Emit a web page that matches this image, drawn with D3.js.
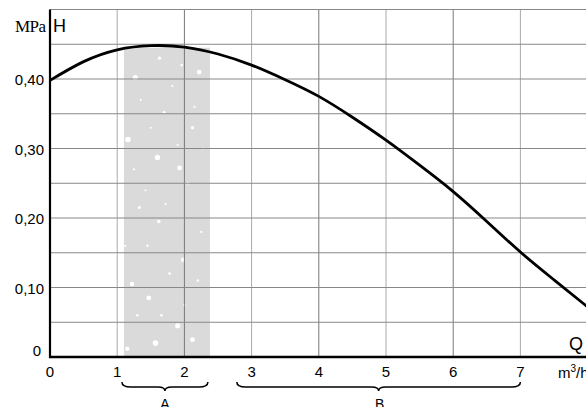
<!DOCTYPE html>
<html><head><meta charset="utf-8">
<script src="https://cdn.jsdelivr.net/npm/d3@7"></script>
<style>html,body{margin:0;padding:0;background:#fff;overflow:hidden}</style>
</head><body>
<svg id="c" width="586" height="407"></svg>
<script>
// Pump curve H(Q)
const flowQ = [0, 0.5, 1, 1.5, 2, 2.5, 3, 3.5, 4, 4.5, 5, 5.5, 6, 6.5, 7, 7.5, 8];
const headH = [0.398, 0.425, 0.442, 0.448, 0.446, 0.436, 0.420, 0.399, 0.375, 0.345, 0.312, 0.276, 0.238, 0.195, 0.151, 0.111, 0.072];
const xTicks = [0, 1, 2, 3, 4, 5, 6, 7];
const xTickLabels = ["0", "1", "2", "3", "4", "5", "6", "7"];
const yTicks = [0, 0.1, 0.2, 0.3, 0.4];
const yTickLabels = ["0", "0,10", "0,20", "0,30", "0,40"];
const xGrid = [1, 2, 3, 4, 5, 6, 7, 8];
const yGrid = [0.05, 0.1, 0.15, 0.2, 0.25, 0.3, 0.35, 0.4, 0.45, 0.5];
const zoneA = [1.1, 2.38];
const braceA = [1.07, 2.35];
const braceB = [2.78, 7.0];
const speckles = [
  [1.27,0.402,2.6],[1.63,0.43,1.6],[2.22,0.41,2.4],[1.96,0.42,1.4],[1.16,0.313,2.8],[1.6,0.287,2.7],
  [1.93,0.272,2.4],[1.7,0.352,1.5],[2.12,0.33,1.6],[1.33,0.215,1.5],[1.62,0.195,1.8],[1.98,0.14,2.2],
  [1.47,0.085,2.4],[1.22,0.105,2.2],[1.9,0.045,2.6],[1.15,0.012,2.2],[1.57,0.02,2.8],[2.12,0.025,2.4],
  [1.35,0.37,1.1],[1.82,0.39,1.1],[2.05,0.25,1.2],[1.25,0.27,1.1],[1.45,0.16,1.2],[1.78,0.12,1.3],
  [2.25,0.18,1.1],[1.3,0.06,1.2],[2.0,0.075,1.3],[1.72,0.22,1.1],[2.28,0.3,1.1],[1.5,0.33,1.0],
  [1.9,0.305,1.1],[1.12,0.16,1.1],[2.2,0.11,1.2],[1.66,0.06,1.3],[1.42,0.24,1.0],[2.15,0.36,1.1]
];

const svg = d3.select("#c");
const x = d3.scaleLinear().domain([0, 8]).range([50, 587.6]);
const y = d3.scaleLinear().domain([0, 0.5]).range([357, 9.5]);

// shaded zone A
svg.append("rect")
  .attr("x", x(zoneA[0])).attr("y", y(0.445))
  .attr("width", x(zoneA[1]) - x(zoneA[0])).attr("height", y(0) - y(0.445))
  .attr("fill", "#dadada");
svg.append("g").selectAll("circle").data(speckles).join("circle")
  .attr("cx", d => x(d[0])).attr("cy", d => y(d[1])).attr("r", d => d[2])
  .attr("fill", "#fff");

// grid
svg.append("g").selectAll("line").data(xGrid).join("line")
  .attr("x1", d => x(d)).attr("x2", d => x(d)).attr("y1", y(0.5)).attr("y2", y(0))
  .attr("stroke", (d, i) => i % 2 ? "#777" : "#aaa").attr("stroke-width", 1);
svg.append("g").selectAll("line").data(yGrid).join("line")
  .attr("x1", x(0)).attr("x2", 586).attr("y1", d => y(d)).attr("y2", d => y(d))
  .attr("stroke", "#888").attr("stroke-width", 1);

// axes lines
svg.append("line").attr("x1", x(0)).attr("x2", x(0)).attr("y1", y(0.5)).attr("y2", y(0) + 1)
  .attr("stroke", "#000").attr("stroke-width", 2.2);
svg.append("line").attr("x1", x(0) - 1).attr("x2", 586).attr("y1", y(0)).attr("y2", y(0))
  .attr("stroke", "#000").attr("stroke-width", 2.5);

// curve
const line = d3.line().x((d, i) => x(flowQ[i])).y(d => y(d)).curve(d3.curveNatural);
svg.append("path").attr("d", line(headH)).attr("fill", "none")
  .attr("stroke", "#000").attr("stroke-width", 2.8);

// tick labels
const font = "Liberation Sans, Arial, sans-serif";
svg.append("g").selectAll("text").data(xTicks).join("text")
  .attr("x", d => x(d)).attr("y", 377).attr("text-anchor", "middle")
  .attr("font-family", font).attr("font-size", 15).text((d, i) => xTickLabels[i]);
svg.append("g").selectAll("text").data(yTicks).join("text")
  .attr("x", (d, i) => i === 0 ? 41 : 44).attr("y", d => d === 0 ? y(d) - 1 : y(d) + 6)
  .attr("text-anchor", "end")
  .attr("font-family", font).attr("font-size", 15).text((d, i) => yTickLabels[i]);

// axis titles
svg.append("text").attr("x", 15).attr("y", 32).attr("font-family", "Liberation Serif, Times New Roman, serif")
  .attr("font-size", 17).attr("textLength", 31).text("MPa");
svg.append("text").attr("x", 53).attr("y", 32).attr("font-family", font).attr("font-size", 18).text("H");
svg.append("text").attr("x", 569).attr("y", 350).attr("font-family", font).attr("font-size", 18).text("Q");
const mh = svg.append("text").attr("x", 558).attr("y", 378).attr("font-family", font).attr("font-size", 15);
mh.append("tspan").text("m");
mh.append("tspan").attr("font-size", 10).attr("dy", -6).text("3");
mh.append("tspan").attr("dy", 6).text("/h");

// braces
function brace(a, b, yy) {
  const x1 = x(a), x2 = x(b), m = (x1 + x2) / 2;
  return `M${x1},${yy - 5} Q${x1},${yy} ${x1 + 9},${yy} L${m - 7},${yy} Q${m},${yy} ${m},${yy + 4} Q${m},${yy} ${m + 7},${yy} L${x2 - 9},${yy} Q${x2},${yy} ${x2},${yy - 5}`;
}
svg.append("path").attr("d", brace(braceA[0], braceA[1], 387)).attr("fill", "none").attr("stroke", "#000").attr("stroke-width", 1.5);
svg.append("path").attr("d", brace(braceB[0], braceB[1], 387)).attr("fill", "none").attr("stroke", "#000").attr("stroke-width", 1.5);
svg.append("text").attr("x", x((braceA[0] + braceA[1]) / 2)).attr("y", 409).attr("text-anchor", "middle")
  .attr("font-family", font).attr("font-size", 14).text("A");
svg.append("text").attr("x", x((braceB[0] + braceB[1]) / 2) + 1).attr("y", 409).attr("text-anchor", "middle")
  .attr("font-family", font).attr("font-size", 14).text("B");
</script>
</body></html>
